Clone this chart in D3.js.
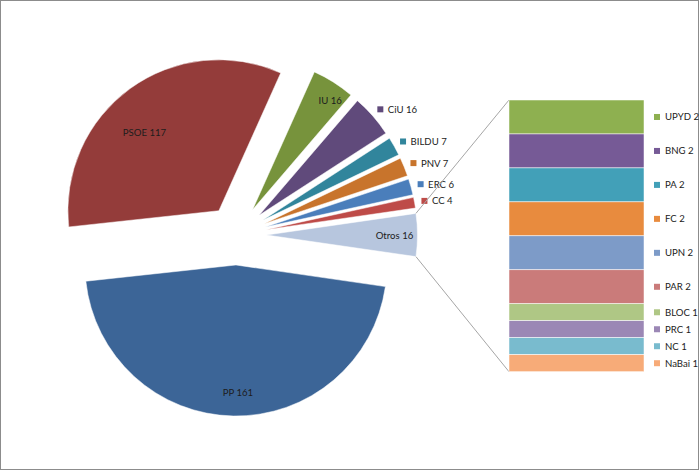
<!doctype html>
<html lang="es">
<head>
    <meta charset="UTF-8">
    <title>Congreso 2011 - escaños</title>
    <style>
        body { margin: 0; background: #fff; }
        .chart { display: block; }
        .lbl { font: 9.6px Lato, "Liberation Sans", sans-serif; fill: #1c1c1c; }
    </style>
</head>
<body>
<svg class="chart"></svg>

<script src="https://d3js.org/d3.v7.min.js" charset="utf-8"></script>
<script>
    // pie slices, clockwise from the "Otros" slice (which sits on the right)
    var pieParties = ["Otros", "PP", "PSOE", "IU", "CiU", "BILDU", "PNV", "ERC", "CC"];
    var pieSeats   = [16, 161, 117, 16, 16, 7, 7, 6, 4];
    var pieColors  = ["#b7c6de", "#3c6597", "#943c3a", "#77933c", "#604a7b",
                      "#31859c", "#c8742c", "#4a7ebb", "#be4b48"];

    // the bar that breaks "Otros" down, top to bottom
    var otherParties = ["UPYD", "BNG", "PA", "FC", "UPN", "PAR", "BLOC", "PRC", "NC", "NaBai"];
    var otherSeats   = [2, 2, 2, 2, 2, 2, 1, 1, 1, 1];
    var otherColors  = ["#8eb050", "#765a96", "#42a0b8", "#e88b3e", "#7d9bc8",
                        "#ca7b7a", "#afc785", "#9b87b5", "#79bbce", "#f7ab78"];

    var totalWidth = 700, totalHeight = 471;
    var cx = 236.5, cy = 235, radius = 151, explode = 30;

    // labels drawn inside their slice: radius from the slice tip and an angle nudge (deg)
    var insideLabels = {
        "PSOE":  {r: 108, da: -7.5},
        "PP":    {r: 128, da: -1.9},
        "IU":    {r: 134, da: 3},
        "Otros": {r: 128, da: 0}
    };
    var outsideR = 161;

    var svg = d3.select(".chart")
        .attr("width", totalWidth)
        .attr("height", totalHeight);

    // outer frame
    svg.append("rect")
        .attr("x", 0.5).attr("y", 0.5)
        .attr("width", totalWidth - 2).attr("height", totalHeight - 2)
        .attr("fill", "none")
        .attr("stroke", "#8c8c8c");

    var total = d3.sum(pieSeats);
    var half = Math.PI * pieSeats[0] / total;   // half of the Otros slice

    var pie = d3.pie().sort(null)
        .startAngle(Math.PI / 2 - half)
        .endAngle(Math.PI / 2 - half + 2 * Math.PI);

    var arcs = pie(pieSeats);
    var arc = d3.arc().innerRadius(0).outerRadius(radius);

    arcs.forEach(function(d, i) {
        d.name = pieParties[i];
        d.mid = (d.startAngle + d.endAngle) / 2;
        d.tx = cx + Math.sin(d.mid) * explode;
        d.ty = cy - Math.cos(d.mid) * explode;
    });

    var g = svg.append("g");

    g.selectAll(".slice").data(arcs).enter()
        .append("path").attr("class", "slice")
        .attr("transform", function(d) { return "translate(" + d.tx + "," + d.ty + ")"; })
        .attr("d", arc)
        .attr("fill", function(d, i) { return pieColors[i]; })
        .attr("stroke", "#fff")
        .attr("stroke-width", 0.5);

    // data labels
    arcs.forEach(function(d, i) {
        var txt = d.name + " " + pieSeats[i];
        var ins = insideLabels[d.name];
        if (ins) {
            var a = d.mid + ins.da * Math.PI / 180;
            g.append("text").attr("class", "lbl")
                .attr("x", d.tx + Math.sin(a) * ins.r)
                .attr("y", d.ty - Math.cos(a) * ins.r)
                .attr("text-anchor", "middle")
                .attr("dominant-baseline", "central")
                .text(txt);
        } else {
            var px = d.tx + Math.sin(d.mid) * outsideR;
            var py = d.ty - Math.cos(d.mid) * outsideR;
            g.append("rect")
                .attr("x", px - 3).attr("y", py - 3)
                .attr("width", 6).attr("height", 6)
                .attr("fill", pieColors[i]);
            g.append("text").attr("class", "lbl")
                .attr("x", px + 7.5)
                .attr("y", py)
                .attr("dominant-baseline", "central")
                .text(txt);
        }
    });

    // stacked bar for "Otros"
    var barX = 509, barW = 135;
    var y = d3.scaleLinear().domain([0, d3.sum(otherSeats)]).range([100, 371.7]);
    var cum = d3.cumsum(otherSeats);
    var segs = otherSeats.map(function(v, i) {
        return {name: otherParties[i], v: v, y0: cum[i] - v, y1: cum[i], c: otherColors[i]};
    });

    // connector lines from the Otros slice corners to the bar
    var o = arcs[0];
    var topPt = [o.tx + Math.sin(o.startAngle) * radius, o.ty - Math.cos(o.startAngle) * radius];
    var botPt = [o.tx + Math.sin(o.endAngle) * radius, o.ty - Math.cos(o.endAngle) * radius];
    svg.append("line")
        .attr("x1", topPt[0]).attr("y1", topPt[1])
        .attr("x2", barX).attr("y2", y(0))
        .attr("stroke", "#a6a6a6").attr("stroke-width", 1);
    svg.append("line")
        .attr("x1", botPt[0]).attr("y1", botPt[1])
        .attr("x2", barX).attr("y2", y(d3.sum(otherSeats)))
        .attr("stroke", "#a6a6a6").attr("stroke-width", 1);

    var bar = svg.append("g");
    bar.selectAll(".seg").data(segs).enter()
        .append("rect").attr("class", "seg")
        .attr("x", barX)
        .attr("y", function(d) { return y(d.y0); })
        .attr("width", barW)
        .attr("height", function(d) { return y(d.y1) - y(d.y0); })
        .attr("fill", function(d) { return d.c; })
        .attr("stroke", "#fff")
        .attr("stroke-width", 0.5);

    // legend for the bar
    var leg = bar.selectAll(".leg").data(segs).enter()
        .append("g").attr("class", "leg")
        .attr("transform", function(d) {
            return "translate(657," + y((d.y0 + d.y1) / 2) + ")";
        });
    leg.append("rect")
        .attr("x", -3).attr("y", -3)
        .attr("width", 6).attr("height", 6)
        .attr("fill", function(d) { return d.c; });
    leg.append("text").attr("class", "lbl")
        .attr("x", 8)
        .attr("dominant-baseline", "central")
        .text(function(d) { return d.name + " " + d.v; });
</script>
</body>
</html>
